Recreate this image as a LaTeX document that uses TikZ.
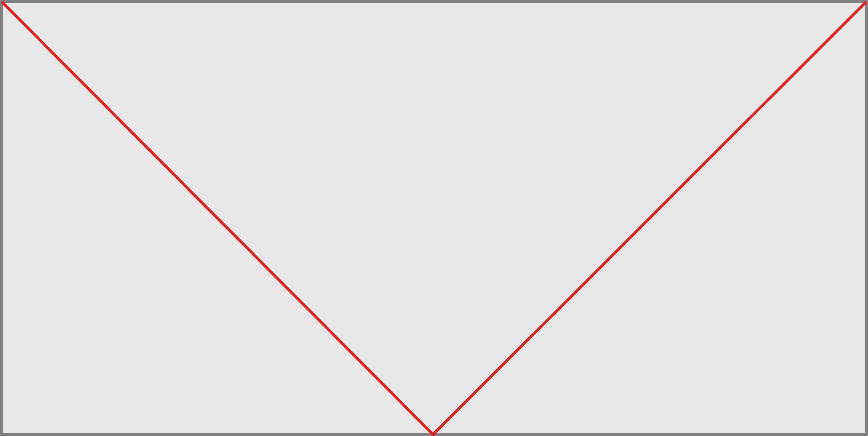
\documentclass[tikz,border=0pt]{standalone}
\definecolor{panelgray}{HTML}{E8E8E8}
\definecolor{framegray}{HTML}{808080}
\definecolor{vred}{HTML}{E0201E}
\begin{document}
\begin{tikzpicture}[x=0.1mm,y=0.1mm]
\useasboundingbox (0,0) rectangle (868,436);
\draw[framegray, fill=panelgray, line width=0.75pt] (1.3,1.3) rectangle (866.7,434.7);
\coordinate (tl) at (2,434);
\coordinate (tr) at (866,434);
\coordinate (bm) at (433,1.5);
\draw[vred, line width=0.75pt] (tl) -- (bm) -- (tr);
\end{tikzpicture}
\end{document}
